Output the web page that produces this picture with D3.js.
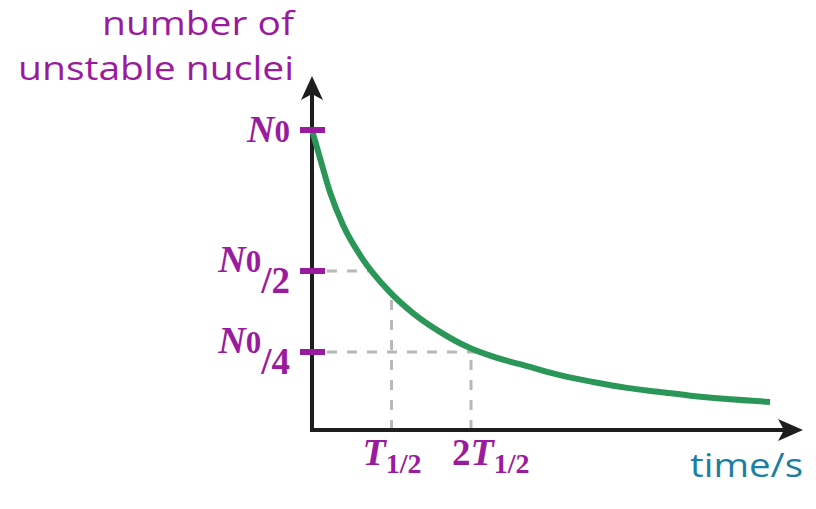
<!DOCTYPE html>
<html>
<head>
<meta charset="utf-8">
<script src="https://cdn.jsdelivr.net/npm/d3@7"></script>
<style>
  body { margin: 0; background: #fff; }
  svg { display: block; }
</style>
</head>
<body>
<div id="chart"></div>
<script>
// decay curve, time in half-lives, N as fraction of N0
const curveT = [0, 0.10, 0.226, 0.39, 0.629, 0.956, 1.27, 1.61, 1.987, 2.327, 2.704, 3.119, 3.535, 3.962, 4.377, 4.792, 5.22, 5.761];
const curveN = [1, 0.901, 0.78, 0.663, 0.546, 0.441, 0.37, 0.312, 0.262, 0.231, 0.205, 0.176, 0.154, 0.135, 0.122, 0.109, 0.099, 0.09];

// marked levels on the y axis and marked times on the x axis
const yTicks = [1, 0.5, 0.25];
const yTickDen = [null, '2', '4'];
const guideN = [0.5, 0.25];
const guideT = [1, 2];
const xTickPrefix = ['', '2'];

const yTitle = ['number of', 'unstable nuclei'];
const xTitle = 'time/s';

const W = 816, H = 509;
const ox = 312, oy = 430;

const purple = '#9b1b9e';
const green = '#2a9657';
const axisCol = '#1e1e1e';
const guideCol = '#b8b8b8';

const svg = d3.select('#chart').append('svg')
    .attr('width', W)
    .attr('height', H)
    .attr('viewBox', `0 0 ${W} ${H}`);

const x = d3.scaleLinear().domain([0, 1]).range([ox, ox + 79.5]);
// the sketch is not drawn to a single linear scale, so use a piecewise one
const y = d3.scaleLinear().domain([0, 0.25, 0.5, 1]).range([oy, 352, 271, 130]);

const pts = curveT.map((t, i) => ({t: t, n: curveN[i]}));

// where the curve reaches a level / a time (linear look-up between read points)
function tAtN(n) {
    for (let i = 1; i < pts.length; i++) {
        const a = pts[i - 1], b = pts[i];
        if (n <= a.n && n >= b.n) return a.t + (a.n - n) / (a.n - b.n) * (b.t - a.t);
    }
    return 0;
}
function nAtT(t) {
    for (let i = 1; i < pts.length; i++) {
        const a = pts[i - 1], b = pts[i];
        if (t >= a.t && t <= b.t) return a.n + (t - a.t) / (b.t - a.t) * (b.n - a.n);
    }
    return 0;
}

// dashed guides
const guides = svg.append('g')
    .attr('stroke', guideCol)
    .attr('stroke-width', 3)
    .attr('stroke-dasharray', '10,10')
    .attr('fill', 'none');

guides.selectAll('.hguide')
    .data(guideN)
    .enter()
    .append('line')
    .attr('x1', ox + 15)
    .attr('x2', d => x(tAtN(d)))
    .attr('y1', d => y(d))
    .attr('y2', d => y(d));

guides.selectAll('.vguide')
    .data(guideT)
    .enter()
    .append('line')
    .attr('x1', d => x(d))
    .attr('x2', d => x(d))
    .attr('y1', oy)
    .attr('y2', d => y(nAtT(d)));

// axes
const axes = svg.append('g');
axes.append('line')
    .attr('x1', ox).attr('x2', ox)
    .attr('y1', oy + 2).attr('y2', 92)
    .attr('stroke', axisCol).attr('stroke-width', 4);
axes.append('line')
    .attr('x1', ox - 2).attr('x2', 788)
    .attr('y1', oy).attr('y2', oy)
    .attr('stroke', axisCol).attr('stroke-width', 4);
axes.append('path')
    .attr('d', `M${ox},76 L${ox + 11},100 L${ox},94 L${ox - 11},100 Z`)
    .attr('fill', axisCol);
axes.append('path')
    .attr('d', `M803,${oy} L778,${oy - 11} L784,${oy} L778,${oy + 11} Z`)
    .attr('fill', axisCol);

// decay curve
const line = d3.line()
    .x(d => x(d.t))
    .y(d => y(d.n))
    .curve(d3.curveMonotoneX);

svg.append('path')
    .datum(pts)
    .attr('d', line)
    .attr('fill', 'none')
    .attr('stroke', green)
    .attr('stroke-width', 6);

// y tick marks
svg.selectAll('.ytick')
    .data(yTicks)
    .enter()
    .append('line')
    .attr('x1', ox - 12)
    .attr('x2', ox + 13)
    .attr('y1', d => y(d))
    .attr('y2', d => y(d))
    .attr('stroke', purple)
    .attr('stroke-width', 6);

// y tick labels: N0, N0/2, N0/4
const serif = '"Liberation Serif", "DejaVu Serif", serif';
yTicks.forEach((v, i) => {
    const den = yTickDen[i];
    const t = svg.append('text')
        .attr('x', 290)
        .attr('y', den ? y(v) + 22 : y(v) + 12)
        .attr('text-anchor', 'end')
        .attr('fill', purple)
        .attr('font-family', serif)
        .attr('font-weight', 'bold');
    t.append('tspan')
        .attr('dy', den ? -21 : 0)
        .attr('font-style', 'italic')
        .attr('font-size', 38)
        .text('N');
    t.append('tspan')
        .attr('font-size', 31)
        .text('0');
    if (den) {
        t.append('tspan')
            .attr('dy', 21)
            .attr('font-size', 37)
            .text('/' + den);
    }
});

// x tick labels: T1/2, 2T1/2
guideT.forEach((v, i) => {
    const t = svg.append('text')
        .attr('x', x(v) - (i ? 19 : 29))
        .attr('y', 465)
        .attr('fill', purple)
        .attr('font-family', serif)
        .attr('font-weight', 'bold');
    if (xTickPrefix[i]) {
        t.append('tspan').attr('font-size', 37).text(xTickPrefix[i]);
    }
    t.append('tspan')
        .attr('font-style', 'italic')
        .attr('font-size', 38)
        .text('T');
    t.append('tspan')
        .attr('dy', 8)
        .attr('font-size', 28)
        .text('1/2');
});

// axis titles: the original face is wide, so stretch Open Sans to the same width
function wideText(str, right, base, width, color) {
    const g = svg.append('g');
    const t = g.append('text')
        .attr('text-anchor', 'end')
        .attr('fill', color)
        .attr('font-family', '"Open Sans", sans-serif')
        .attr('font-size', 33)
        .text(str);
    const k = width / t.node().getComputedTextLength();
    g.attr('transform', `translate(${right},${base}) scale(${k},1)`);
}

const yTitleWidth = [192, 276];
yTitle.forEach((s, i) => wideText(s, 294, 35 + i * 45, yTitleWidth[i], purple));
wideText(xTitle, 803, 477, 113, '#1a80a2');
</script>
</body>
</html>
